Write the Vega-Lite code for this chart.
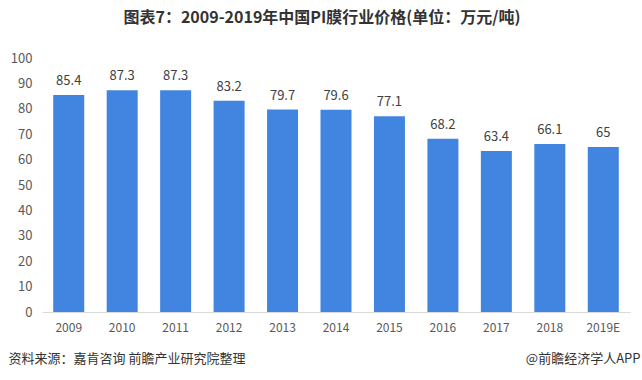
{
  "$schema": "https://vega.github.io/schema/vega-lite/v6.json",
  "autosize": {"type": "none"},
  "width": 588,
  "height": 254,
  "padding": {"left": 42, "top": 58, "right": 12, "bottom": 68},
  "background": "#ffffff",
  "title": {
    "text": "图表7：2009-2019年中国PI膜行业价格(单位：万元/吨)",
    "anchor": "middle",
    "dx": -14,
    "offset": 26,
    "font": "Noto Sans CJK SC",
    "fontSize": 16,
    "fontWeight": "bold",
    "color": "#333333"
  },
  "config": {
    "view": {"stroke": null},
    "font": "Noto Sans CJK SC"
  },
  "data": {
    "values": [
      {"year": "2009", "price": 85.4, "label": "85.4"},
      {"year": "2010", "price": 87.3, "label": "87.3"},
      {"year": "2011", "price": 87.3, "label": "87.3"},
      {"year": "2012", "price": 83.2, "label": "83.2"},
      {"year": "2013", "price": 79.7, "label": "79.7"},
      {"year": "2014", "price": 79.6, "label": "79.6"},
      {"year": "2015", "price": 77.1, "label": "77.1"},
      {"year": "2016", "price": 68.2, "label": "68.2"},
      {"year": "2017", "price": 63.4, "label": "63.4"},
      {"year": "2018", "price": 66.1, "label": "66.1"},
      {"year": "2019E", "price": 65, "label": "65"}
    ]
  },
  "encoding": {
    "x": {
      "field": "year",
      "type": "nominal",
      "sort": null,
      "scale": {"paddingInner": 0.42, "paddingOuter": 0.21},
      "axis": {
        "title": "资料来源：嘉肯咨询 前瞻产业研究院整理",
        "titleAnchor": "start",
        "titleAlign": "left",
        "titleX": -34,
        "titleY": 50,
        "titleBaseline": "alphabetic",
        "titleFont": "Noto Sans CJK SC",
        "titleFontSize": 13,
        "titleFontWeight": "normal",
        "titleColor": "#333333",
        "labelAngle": 0,
        "labelFont": "Noto Sans CJK SC",
        "labelFontSize": 12,
        "labelColor": "#595959",
        "labelPadding": 10,
        "ticks": false,
        "domainColor": "#d9d9d9",
        "domainWidth": 1
      }
    },
    "y": {
      "field": "price",
      "type": "quantitative",
      "scale": {"domain": [0, 100]},
      "axis": {
        "values": [0, 10, 20, 30, 40, 50, 60, 70, 80, 90, 100],
        "title": "@前瞻经济学人APP",
        "titleAngle": 0,
        "titleAlign": "right",
        "titleAnchor": "start",
        "titleX": 598,
        "titleY": 304,
        "titleBaseline": "alphabetic",
        "titleFont": "Noto Sans CJK SC",
        "titleFontSize": 13,
        "titleFontWeight": "normal",
        "titleColor": "#333333",
        "labelFont": "Noto Sans CJK SC",
        "labelFontSize": 13,
        "labelColor": "#595959",
        "labelPadding": 10,
        "domain": false,
        "ticks": false,
        "grid": false
      }
    }
  },
  "layer": [
    {"mark": {"type": "bar", "color": "#4285e0"}},
    {
      "mark": {"type": "text", "dy": -14, "font": "Noto Sans CJK SC", "fontSize": 13, "color": "#404040"},
      "encoding": {"text": {"field": "label"}}
    }
  ]
}
